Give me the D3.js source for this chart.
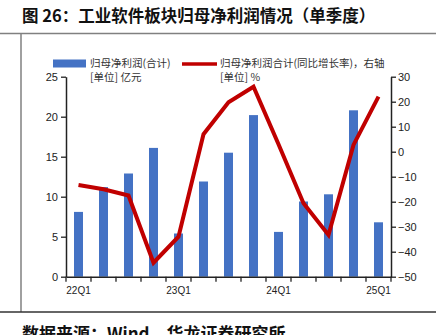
<!DOCTYPE html>
<html>
<head>
<meta charset="utf-8">
<script src="https://cdn.jsdelivr.net/npm/d3@7"></script>
<style>
  html, body { margin: 0; padding: 0; background: #fff; }
  svg { display: block; }
</style>
</head>
<body>
<script>
// Quarterly categories
const quarters = ["22Q1","22Q2","22Q3","22Q4","23Q1","23Q2","23Q3","23Q4","24Q1","24Q2","24Q3","24Q4","25Q1"];
// Net profit attributable to parent (sum), 100 million CNY
const netProfit = [8.1, 11.2, 12.9, 16.1, 5.4, 11.9, 15.5, 20.2, 5.6, 9.4, 10.3, 20.8, 6.8];
// Year-on-year growth of the total, %
const yoyGrowth = [-13.3, -15.0, -17.5, -44.4, -34.0, 7.0, 19.8, 26.0, 3.0, -20.6, -33.3, 2.7, 22.0];
// Tick values
const leftTicks = [0, 5, 10, 15, 20, 25];
const rightTicks = [30, 20, 10, 0, -10, -20, -30, -40, -50];
const shownLabels = ["22Q1","23Q1","24Q1","25Q1"];

const W = 436, H = 335;
const plot = { left: 66, right: 391, top: 76.7, bottom: 276.7 };

const svg = d3.select("body").append("svg")
  .attr("width", W).attr("height", H);

const cjk = "'Noto Sans CJK SC', 'Noto Sans', sans-serif";
const latin = "'Liberation Sans', Arial, sans-serif";

// Title
svg.append("text")
  .attr("x", 22).attr("y", 22)
  .attr("font-family", cjk).attr("font-weight", 700)
  .attr("font-size", 16.5).attr("fill", "#111")
  .text("图 26：工业软件板块归母净利润情况（单季度）");

// Frame lines
svg.append("line").attr("x1", 0).attr("x2", W).attr("y1", 33.5).attr("y2", 33.5)
  .attr("stroke", "#808080").attr("stroke-width", 1.5);
svg.append("line").attr("x1", 21).attr("x2", 21).attr("y1", 33.5).attr("y2", 312)
  .attr("stroke", "#808080").attr("stroke-width", 1.5);
svg.append("line").attr("x1", 0).attr("x2", W).attr("y1", 312).attr("y2", 312)
  .attr("stroke", "#333").attr("stroke-width", 1.5);

// Source note
svg.append("text")
  .attr("x", 22).attr("y", 340)
  .attr("font-family", cjk).attr("font-weight", 700)
  .attr("font-size", 17).attr("fill", "#111")
  .text("数据来源：Wind，华龙证券研究所");

// Scales
const x = d3.scaleBand().domain(quarters).range([plot.left, plot.right]);
const yL = d3.scaleLinear().domain([0, 25]).range([plot.bottom, plot.top]);
const yR = d3.scaleLinear().domain([-50, 30]).range([plot.bottom, plot.top]);

// Bars
const barW = x.bandwidth() * 0.36;
svg.append("g").selectAll("rect").data(quarters).join("rect")
  .attr("x", d => x(d) + (x.bandwidth() - barW) / 2)
  .attr("width", barW)
  .attr("y", (d, i) => yL(netProfit[i]))
  .attr("height", (d, i) => yL(0) - yL(netProfit[i]))
  .attr("fill", "#4472C4");

// Line
const line = d3.line()
  .x((d, i) => x(quarters[i]) + x.bandwidth() / 2)
  .y(d => yR(d));
svg.append("path").datum(yoyGrowth)
  .attr("d", line)
  .attr("fill", "none")
  .attr("stroke", "#C00000")
  .attr("stroke-width", 4)
  .attr("stroke-linejoin", "miter");

// Left axis
const gL = svg.append("g").attr("transform", `translate(${plot.left},0)`)
  .call(d3.axisLeft(yL).tickValues(leftTicks).tickSize(5).tickSizeOuter(0).tickPadding(3));
// Right axis
const gR = svg.append("g").attr("transform", `translate(${plot.right},0)`)
  .call(d3.axisRight(yR).tickValues(rightTicks).tickSize(5).tickSizeOuter(0).tickPadding(2));
// Bottom axis: labels only, boundary ticks drawn below
const gB = svg.append("g").attr("transform", `translate(0,${plot.bottom})`)
  .call(d3.axisBottom(x).tickValues(shownLabels).tickSize(0).tickSizeOuter(0).tickPadding(10));
const bounds = quarters.map(q => x(q)).concat([plot.right]);
gB.selectAll("line.bound").data(bounds).join("line").attr("class", "bound")
  .attr("x1", d => d).attr("x2", d => d).attr("y1", 0).attr("y2", 5)
  .attr("stroke", "#222").attr("stroke-width", 1.3);

[gL, gR, gB].forEach(g => {
  g.select(".domain").attr("stroke", "#222").attr("stroke-width", 1.5);
  g.selectAll(".tick line").attr("stroke", "#222").attr("stroke-width", 1.3);
  g.selectAll("text").attr("font-family", latin).attr("fill", "#222");
});
gL.selectAll("text").attr("font-size", 11);
gR.selectAll("text").attr("font-size", 11);
gB.selectAll("text").attr("font-size", 10);

// Legend
const lg = svg.append("g").attr("font-family", cjk).attr("font-size", 10.5).attr("fill", "#333");
lg.append("rect").attr("x", 53).attr("y", 59.5).attr("width", 33).attr("height", 8).attr("fill", "#4472C4");
lg.append("text").attr("x", 90).attr("y", 67).text("归母净利润(合计)");
lg.append("text").attr("x", 90).attr("y", 81).text("[单位] 亿元");
lg.append("line").attr("x1", 182).attr("x2", 217).attr("y1", 64).attr("y2", 64)
  .attr("stroke", "#C00000").attr("stroke-width", 3.5);
lg.append("text").attr("x", 220).attr("y", 67).text("归母净利润合计(同比增长率)，右轴");
lg.append("text").attr("x", 220).attr("y", 81).text("[单位] %");
</script>
</body>
</html>
